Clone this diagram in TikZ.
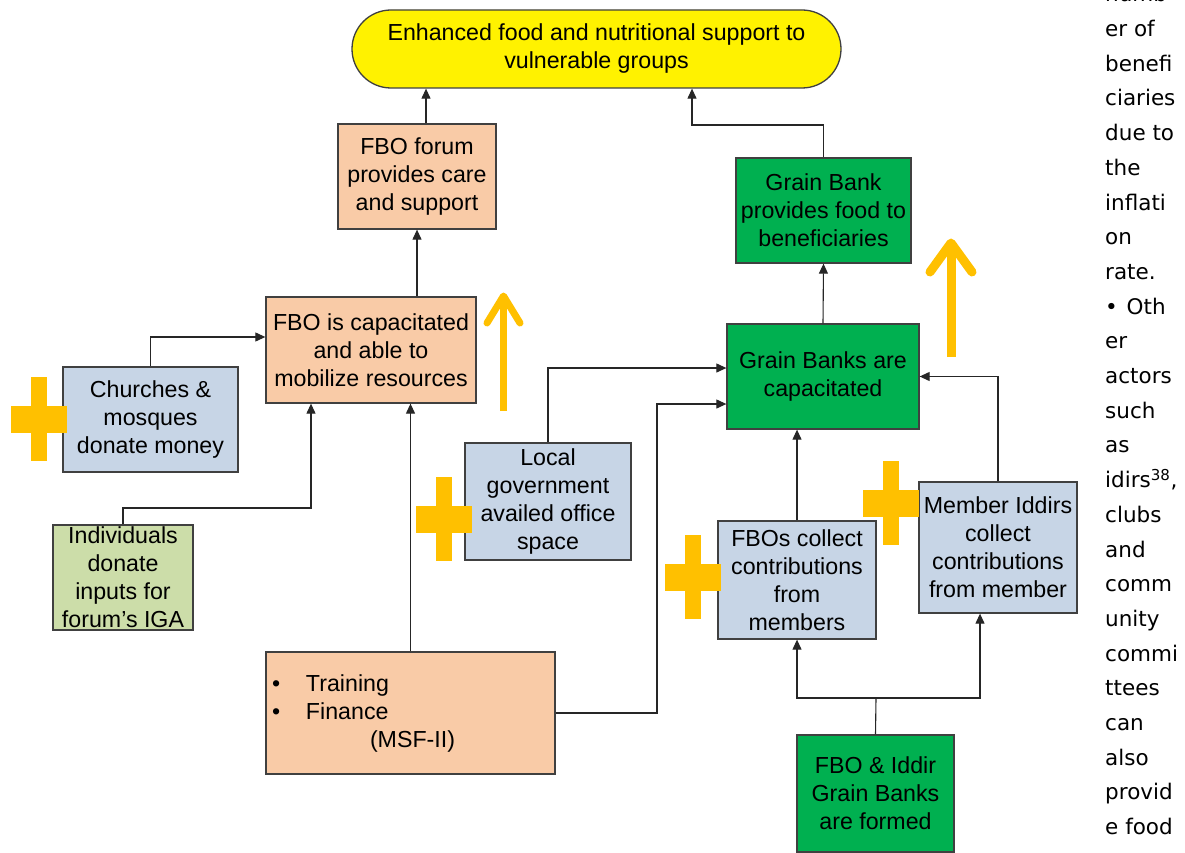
\documentclass[tikz,border=0pt]{standalone}
\usepackage{fontspec}
\setmainfont{Liberation Sans}
\newfontfamily\sidefont{DejaVu Sans}
\usetikzlibrary{arrows.meta}

\definecolor{peach}{HTML}{F9CBA7}
\definecolor{slate}{HTML}{C7D5E6}
\definecolor{sage}{HTML}{CCDDA9}
\definecolor{leaf}{HTML}{00B050}
\definecolor{gold}{HTML}{FFC000}

\tikzset{
  box/.style={draw=black!75, line width=1.3pt, inner sep=0pt, align=center,
    font=\fontsize{23.2}{28}\selectfont},
  goalbox/.style={box, fill=yellow, rounded corners=39pt},
  peachbox/.style={box, fill=peach},
  slatebox/.style={box, fill=slate},
  sagebox/.style={box, fill=sage},
  leafbox/.style={box, fill=leaf},
  link/.style={draw=black!85, line width=1.1pt, -{Triangle[length=10pt,width=9pt]}},
  plusfill/.style={fill=gold},
  uparrow/.style={draw=gold, line join=round},
  sidetext/.style={anchor=base west, inner sep=0pt, font=\sidefont\fontsize{21.5}{34.7}\selectfont}
}

\begin{document}
\begin{tikzpicture}[x=1pt, y=-1pt]
  \useasboundingbox[fill=white] (0,0) rectangle (1185,853);

  % goal
  \node[goalbox, minimum width=489, minimum height=78] (goal) at (596.5,49)
    {Enhanced food and nutritional support to\\vulnerable groups};

  % FBO side
  \node[peachbox, minimum width=158, minimum height=105] (forum) at (417,176.5)
    {FBO forum\\provides care\\and support};
  \node[peachbox, minimum width=210, minimum height=106] (fbocap) at (371,350)
    {FBO is capacitated\\and able to\\mobilize resources};
  \node[slatebox, minimum width=175, minimum height=105] (churches) at (150.5,419.5)
    {Churches \&\\mosques\\donate money};
  \node[sagebox, minimum width=140, minimum height=105] (indiv) at (123,577.5)
    {Individuals\\donate\\inputs for\\forum’s IGA};
  \node[peachbox, minimum width=289, minimum height=122, text width=277,
    inner xsep=6pt, align=left] (training) at (410.5,713)
    {\makebox[34pt][l]{\textbullet}Training\\
     \makebox[34pt][l]{\textbullet}Finance\\
     \hspace*{98pt}(MSF-II)};
  \node[slatebox, minimum width=166, minimum height=117] (localgov) at (548,501.5)
    {Local\\government\\availed office\\space};

  % grain bank side
  \node[leafbox, minimum width=175, minimum height=105] (gbprov) at (823.5,210.5)
    {Grain Bank\\provides food to\\beneficiaries};
  \node[leafbox, minimum width=192, minimum height=105] (cap) at (823,376.5)
    {Grain Banks are\\capacitated};
  \node[slatebox, minimum width=158, minimum height=118] (fbocoll) at (797,580)
    {FBOs collect\\contributions\\from\\members};
  \node[slatebox, minimum width=158, minimum height=131] (member) at (998,547.5)
    {Member Iddirs\\collect\\contributions\\from member};
  \node[leafbox, minimum width=157, minimum height=117] (formed) at (875.5,793.5)
    {FBO \& Iddir\\Grain Banks\\are formed};

  % bends
  \coordinate (fj) at ([xshift=9pt]forum.north);
  \coordinate (gk) at (692,125);
  \coordinate (ik) at (311,508);
  \coordinate (tk) at (657,404);
  \coordinate (fk) at (876,698);

  % links
  \draw[link] (fj) -- (fj |- goal.south);
  \draw[link] (gbprov.north) |- (gk) -- (gk |- goal.south);
  \draw[link] (cap.north) -- (gbprov.south);
  \draw[link] (forum.south |- fbocap.north) -- (forum.south);
  \draw[link] (churches.north) |- ([yshift=13pt]fbocap.west);
  \draw[link] (indiv.north) |- (ik) -- (ik |- fbocap.south);
  \draw[link] (training.north) -- (training.north |- fbocap.south);
  \draw[link] (training.east) -| (tk) -- (tk -| cap.west);
  \draw[link] (localgov.north) |- ([yshift=8.5pt]cap.west);
  \draw[link] (fbocoll.north) -- (fbocoll.north |- cap.south);
  \draw[link] (member.north) |- (cap.east);
  \draw[draw=black!85, line width=1.1pt] (formed.north) -- (fk);
  \draw[link] (fk) -| (fbocoll.south);
  \draw[link] (fk) -| ([xshift=-18pt]member.south);

  % plus signs
  \foreach \px/\py in {39/419, 444/519, 693/577, 891/503} {
    \fill[plusfill] (\px-8,\py-42) rectangle (\px+8,\py+42);
    \fill[plusfill] (\px-28,\py-13.5) rectangle (\px+28,\py+13.5);
  }

  % big yellow arrows
  \draw[uparrow, line width=7pt] (503.5,411) -- (503.5,296);
  \draw[uparrow, line width=7pt, line cap=round] (487,323) -- (503.5,296) -- (520,323);
  \draw[uparrow, line width=9pt] (951,357) -- (951,243);
  \draw[uparrow, line width=9pt, line cap=round] (930,272) -- (951,243) -- (972,272);

  % page text beside the figure
  \foreach \w [count=\i from 0] in {numb, er of, benefi, ciaries, due to, the,
      inflati, on, rate., {•\hspace{2pt} Oth}, er, actors, such, as,
      {idirs\textsuperscript{38},}, clubs, and, comm, unity, commi, ttees,
      can, also, provid, e food}
    \node[sidetext] (side\i) at (1105,{1.8+34.7*\i}) {\w};
\end{tikzpicture}
\end{document}
